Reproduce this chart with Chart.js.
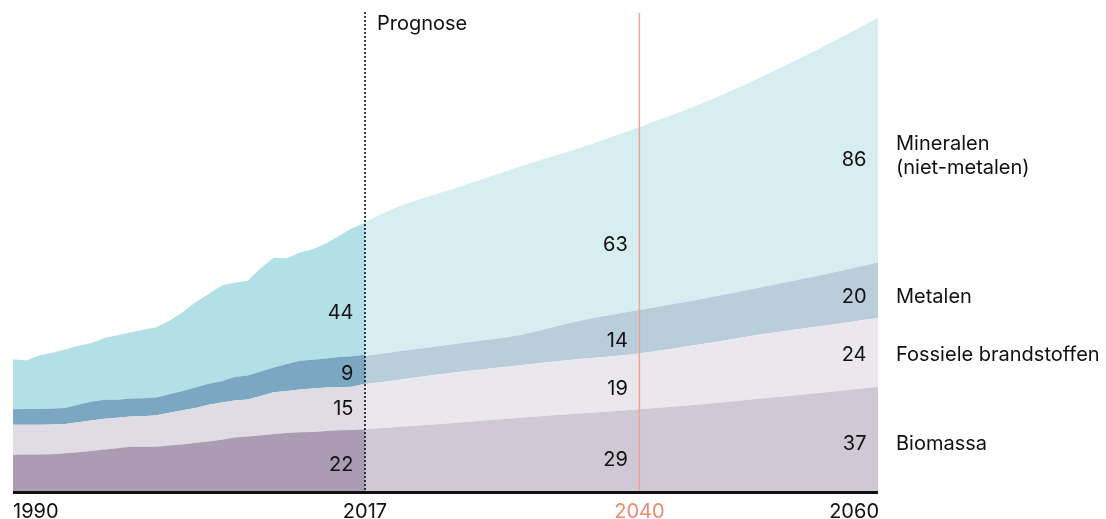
<!DOCTYPE html>
<html lang="nl">
<head>
<meta charset="utf-8">
<title>Grondstoffengebruik 1990-2060</title>
<script src="https://cdn.jsdelivr.net/npm/chart.js@4.4.1/dist/chart.umd.min.js"></script>
<style>
  html, body { margin: 0; padding: 0; background: #fff; }
  #chart { display: block; }
</style>
</head>
<body>
<canvas id="chart" width="1106" height="519"></canvas>
<script>
// historical series (1990-2017)
const histYears = [1990, 1991, 1992, 1993, 1994, 1995, 1996, 1997, 1998, 1999, 2000, 2001, 2002, 2003,
                   2004, 2005, 2006, 2007, 2008, 2009, 2010, 2011, 2012, 2013, 2014, 2015, 2016, 2017];
const histBiomassa = [13.1, 13.2, 13.2, 13.3, 13.6, 14.0, 14.4, 15.0, 15.4, 15.9, 15.9, 15.9, 16.4, 16.7,
                      17.3, 17.8, 18.4, 19.2, 19.5, 19.9, 20.4, 20.8, 21.0, 21.1, 21.5, 21.7, 21.8, 22.1];
const histFossiel = [10.6, 10.5, 10.5, 10.5, 10.3, 10.6, 10.8, 10.8, 10.7, 10.7, 10.8, 11.1, 11.5, 12.1,
                     12.3, 12.9, 13.1, 13.0, 13.1, 13.9, 14.7, 14.8, 15.1, 15.3, 15.3, 15.2, 15.3, 16.0];
const histMetalen = [5.4, 5.5, 5.5, 5.6, 5.7, 6.1, 6.6, 6.7, 6.4, 6.3, 6.3, 6.3, 6.5, 6.8,
                     7.2, 7.4, 7.5, 8.3, 8.4, 8.6, 8.7, 9.5, 10.1, 10.2, 10.2, 10.6, 10.7, 10.2];
const histMineralen = [17.6, 17.1, 18.9, 19.6, 20.6, 20.8, 20.6, 21.7, 22.7, 23.3, 24.1, 24.7, 25.9, 27.7,
                       30.0, 31.6, 33.7, 33.2, 33.4, 36.4, 38.7, 37.2, 38.1, 38.9, 40.5, 42.6, 45.1, 46.5];

// forecast series (2017-2060)
const progYears = [2017, 2020, 2025, 2030, 2035, 2040, 2045, 2050, 2055, 2060];
const progBiomassa = [22.1, 23.0, 24.5, 26.1, 27.6, 29.1, 30.8, 32.8, 34.9, 37.1];
const progFossiel = [15.8, 16.6, 17.8, 18.5, 19.2, 19.7, 21.1, 22.6, 23.4, 24.2];
const progMetalen = [10.0, 10.0, 10.1, 10.7, 13.5, 15.3, 15.9, 16.5, 17.8, 19.5];
const progMineralen = [47.2, 51.2, 55.2, 59.3, 60.8, 64.4, 68.6, 73.8, 79.8, 86.2];

// printed numbers and names
const labels2017 = ["22", "15", "9", "44"];
const labels2040 = ["29", "19", "14", "63"];
const labels2060 = ["37", "24", "20", "86"];
const seriesNames = ["Biomassa", "Fossiele brandstoffen", "Metalen", ["Mineralen", "(niet-metalen)"]];
const tickYears = [1990, 2017, 2040, 2060];

// where the printed numbers sit, in data units
const labelAnchors = {
    2017: [9.9, 29.8, 41.9, 63.5],
    2040: [11.6, 36.8, 53.5, 87.3],
    2060: [17.4, 48.6, 69.2, 117.2],
};

const FONT = '20px Inter, "Noto Sans", sans-serif';
const TEXT_COLOR = '#111';
const ORANGE_TEXT = '#ee8b72';
const ORANGE_LINE = '#eea492';
const HIST_COLORS = ['#ab9cb3', '#e0dce3', '#7ba7c2', '#b3e0e6'];
const PROG_COLORS = ['#d1c8d6', '#ebe8ed', '#bacddb', '#d7eef0'];

function toPoints(years, values) {
    return years.map((year, i) => ({ x: year, y: values[i] }));
}

function area(label, years, values, color, axis, first) {
    return {
        label: label,
        data: toPoints(years, values),
        xAxisID: axis,
        stack: axis,
        backgroundColor: color,
        borderColor: color,
        borderWidth: 0,
        pointRadius: 0,
        fill: first ? 'origin' : '-1',
        tension: axis === 'xf' ? 0.4 : 0,
        cubicInterpolationMode: axis === 'xf' ? 'monotone' : 'default',
    };
}

function drawText(ctx, text, x, yMid, align, color) {
    ctx.font = FONT;
    ctx.fillStyle = color || TEXT_COLOR;
    ctx.textAlign = align;
    ctx.textBaseline = 'alphabetic';
    ctx.fillText(text, x, yMid + 7.3);
}

const overlay = {
    id: 'overlay',
    afterDatasetsDraw(chart) {
        const { ctx, chartArea: a, scales } = chart;
        const xh = scales.xh, xf = scales.xf, y = scales.y;
        const x17 = xh.getPixelForValue(2017);
        const x40 = xf.getPixelForValue(2040);
        ctx.save();

        // 2040 line
        ctx.strokeStyle = ORANGE_LINE;
        ctx.lineWidth = 1.5;
        ctx.beginPath();
        ctx.moveTo(x40, a.top + 1);
        ctx.lineTo(x40, a.bottom);
        ctx.stroke();

        // start of forecast
        ctx.strokeStyle = '#111';
        ctx.lineWidth = 1.6;
        ctx.setLineDash([2, 2]);
        ctx.beginPath();
        ctx.moveTo(x17, a.top);
        ctx.lineTo(x17, a.bottom);
        ctx.stroke();
        ctx.setLineDash([]);

        // base line
        ctx.strokeStyle = '#111';
        ctx.lineWidth = 3;
        ctx.beginPath();
        ctx.moveTo(a.left, a.bottom + 0.5);
        ctx.lineTo(a.right, a.bottom + 0.5);
        ctx.stroke();

        drawText(ctx, 'Prognose', x17 + 12, a.top + 11, 'left');

        // values
        const groups = [[2017, labels2017, xh], [2040, labels2040, xf], [2060, labels2060, xf]];
        groups.forEach(([year, texts, scale]) => {
            const xr = scale.getPixelForValue(year) - 11.5;
            texts.forEach((t, i) => {
                drawText(ctx, t, xr, y.getPixelForValue(labelAnchors[year][i]), 'right');
            });
        });

        // names on the right
        const xl = a.right + 18;
        seriesNames.forEach((name, i) => {
            const ym = y.getPixelForValue(labelAnchors[2060][i]);
            if (Array.isArray(name)) {
                drawText(ctx, name[0], xl, ym - 16, 'left');
                drawText(ctx, name[1], xl, ym + 8, 'left');
            } else {
                drawText(ctx, name, xl, ym, 'left');
            }
        });

        // year ticks
        const yt = a.bottom + 19;
        drawText(ctx, String(tickYears[0]), xh.getPixelForValue(tickYears[0]), yt, 'left');
        drawText(ctx, String(tickYears[1]), x17, yt, 'center');
        drawText(ctx, String(tickYears[2]), x40, yt, 'center', ORANGE_TEXT);
        drawText(ctx, String(tickYears[3]), xf.getPixelForValue(tickYears[3]) + 1, yt, 'right');

        ctx.restore();
    }
};

const datasets = [
    area('Biomassa', histYears, histBiomassa, HIST_COLORS[0], 'xh', true),
    area('Fossiele brandstoffen', histYears, histFossiel, HIST_COLORS[1], 'xh', false),
    area('Metalen', histYears, histMetalen, HIST_COLORS[2], 'xh', false),
    area('Mineralen (niet-metalen)', histYears, histMineralen, HIST_COLORS[3], 'xh', false),
    area('Biomassa', progYears, progBiomassa, PROG_COLORS[0], 'xf', true),
    area('Fossiele brandstoffen', progYears, progFossiel, PROG_COLORS[1], 'xf', false),
    area('Metalen', progYears, progMetalen, PROG_COLORS[2], 'xf', false),
    area('Mineralen (niet-metalen)', progYears, progMineralen, PROG_COLORS[3], 'xf', false),
];

new Chart(document.getElementById('chart'), {
    type: 'line',
    data: { datasets: datasets },
    options: {
        responsive: false,
        animation: false,
        devicePixelRatio: 1,
        layout: { padding: { left: 13, right: 228, top: 12, bottom: 27 } },
        plugins: { legend: { display: false }, tooltip: { enabled: false } },
        scales: {
            // history is drawn a little wider per year than the forecast
            xh: { type: 'linear', display: false, min: 1990, max: 2056.35 },
            xf: { type: 'linear', display: false, min: 1987.5, max: 2060 },
            y: { type: 'linear', display: false, stacked: true, min: 0, max: 169 },
        },
    },
    plugins: [overlay],
});
</script>
</body>
</html>
